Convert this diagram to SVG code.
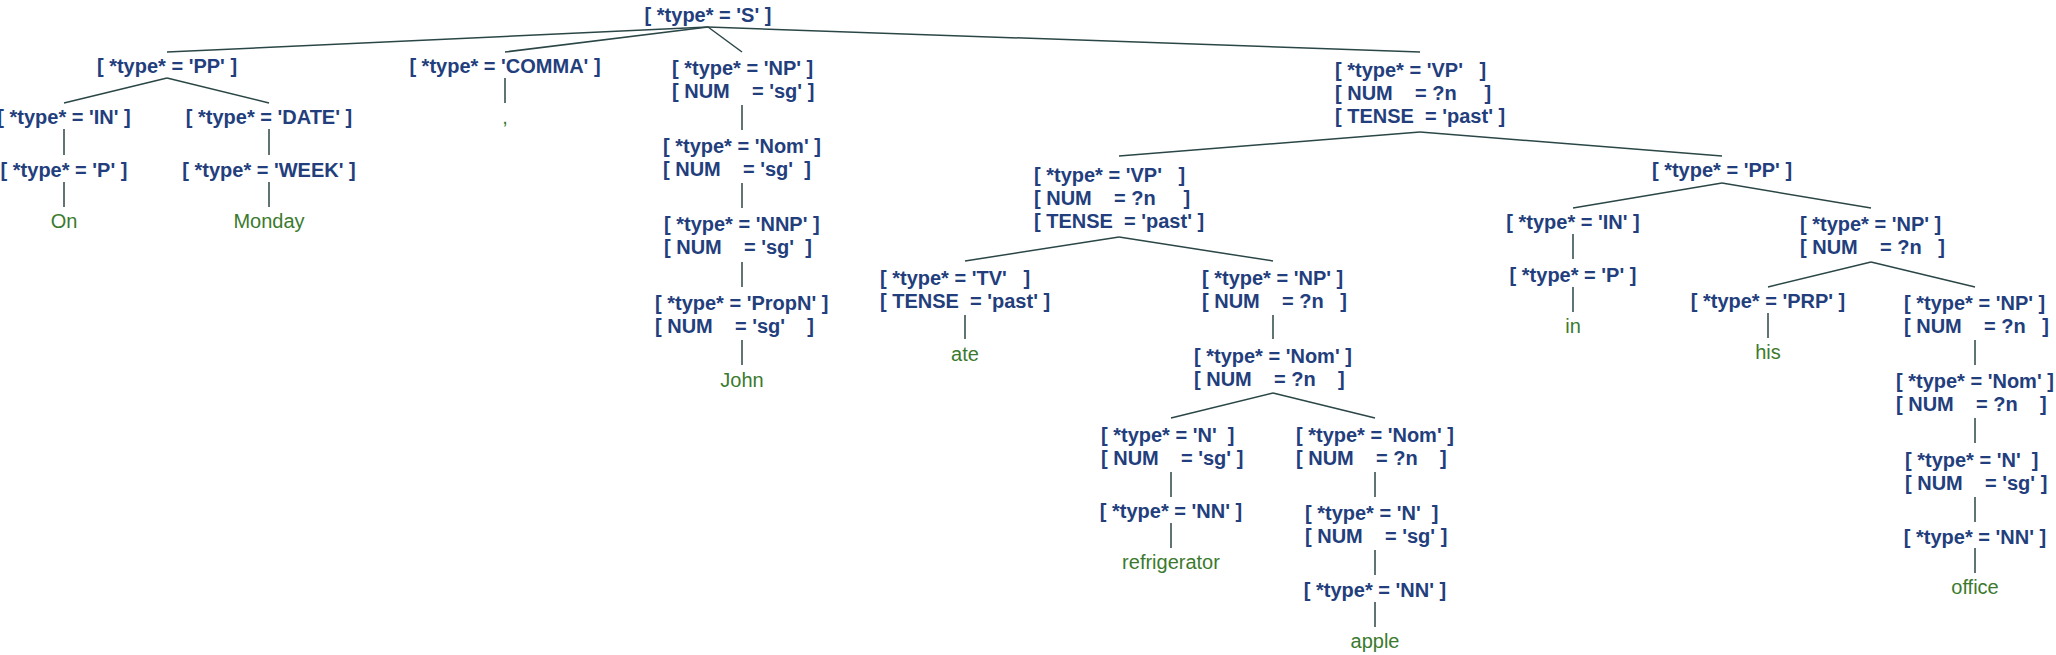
<svg xmlns="http://www.w3.org/2000/svg" width="2056" height="655" viewBox="0 0 2056 655">
<style>
.n{font-family:"Liberation Sans",Arial,sans-serif;font-weight:bold;font-size:20px;fill:#233e7c;white-space:pre}
.m{text-anchor:middle}
.lf{font-family:"Liberation Sans",Arial,sans-serif;font-size:20px;fill:#3b7a2e;text-anchor:middle}
#connectors line{stroke:#2b4646;stroke-width:1.5}
</style>
<rect width="2056" height="655" fill="#fff"/>
<g id="connectors">
<line x1="708" y1="27" x2="167" y2="52"/>
<line x1="708" y1="27" x2="505" y2="52"/>
<line x1="708" y1="27" x2="742" y2="52"/>
<line x1="708" y1="27" x2="1420" y2="52"/>
<line x1="167" y1="78" x2="64" y2="103"/>
<line x1="167" y1="78" x2="269" y2="103"/>
<line x1="64" y1="129" x2="64" y2="155"/>
<line x1="64" y1="182" x2="64" y2="207"/>
<line x1="269" y1="129" x2="269" y2="155"/>
<line x1="269" y1="182" x2="269" y2="207"/>
<line x1="505" y1="78" x2="505" y2="103"/>
<line x1="742" y1="105" x2="742" y2="130"/>
<line x1="742" y1="183" x2="742" y2="208"/>
<line x1="742" y1="262" x2="742" y2="287"/>
<line x1="742" y1="340" x2="742" y2="365"/>
<line x1="1420" y1="132" x2="1119" y2="156"/>
<line x1="1420" y1="132" x2="1722" y2="156"/>
<line x1="1119" y1="237" x2="965" y2="261"/>
<line x1="1119" y1="237" x2="1273" y2="261"/>
<line x1="965" y1="315" x2="965" y2="339"/>
<line x1="1273" y1="315" x2="1273" y2="339"/>
<line x1="1273" y1="393" x2="1171" y2="418"/>
<line x1="1273" y1="393" x2="1375" y2="418"/>
<line x1="1171" y1="472" x2="1171" y2="497"/>
<line x1="1171" y1="523" x2="1171" y2="548"/>
<line x1="1375" y1="472" x2="1375" y2="497"/>
<line x1="1375" y1="550" x2="1375" y2="575"/>
<line x1="1375" y1="602" x2="1375" y2="627"/>
<line x1="1722" y1="183" x2="1573" y2="208"/>
<line x1="1722" y1="183" x2="1871" y2="208"/>
<line x1="1573" y1="234" x2="1573" y2="259"/>
<line x1="1573" y1="287" x2="1573" y2="312"/>
<line x1="1871" y1="262" x2="1768" y2="287"/>
<line x1="1871" y1="262" x2="1975" y2="287"/>
<line x1="1768" y1="313" x2="1768" y2="338"/>
<line x1="1975" y1="340" x2="1975" y2="365"/>
<line x1="1975" y1="418" x2="1975" y2="443"/>
<line x1="1975" y1="497" x2="1975" y2="522"/>
<line x1="1975" y1="548" x2="1975" y2="573"/>
</g>
<g id="n-S"><text class="n m" x="708" y="22">[ *type* = 'S' ]</text></g>
<g id="n-PP"><text class="n m" x="167" y="73">[ *type* = 'PP' ]</text></g>
<g id="n-IN"><text class="n m" x="64" y="124">[ *type* = 'IN' ]</text></g>
<g id="n-P"><text class="n m" x="64" y="177">[ *type* = 'P' ]</text></g>
<g id="leaf-On"><text class="lf" x="64" y="228">On</text></g>
<g id="n-DATE"><text class="n m" x="269" y="124">[ *type* = 'DATE' ]</text></g>
<g id="n-WEEK"><text class="n m" x="269" y="177">[ *type* = 'WEEK' ]</text></g>
<g id="leaf-Monday"><text class="lf" x="269" y="228">Monday</text></g>
<g id="n-COMMA"><text class="n m" x="505" y="73">[ *type* = 'COMMA' ]</text></g>
<g id="leaf-comma"><text class="lf" x="505" y="124">,</text></g>
<g id="n-NP1"><text class="n" xml:space="preserve" y="75"><tspan x="672">[ *type* = 'NP' ]</tspan><tspan x="672" dy="23">[ NUM    = 'sg' ]</tspan></text></g>
<g id="n-Nom1"><text class="n" xml:space="preserve" y="153"><tspan x="663">[ *type* = 'Nom' ]</tspan><tspan x="663" dy="23">[ NUM    = 'sg'  ]</tspan></text></g>
<g id="n-NNP"><text class="n" xml:space="preserve" y="231"><tspan x="664">[ *type* = 'NNP' ]</tspan><tspan x="664" dy="23">[ NUM    = 'sg'  ]</tspan></text></g>
<g id="n-PropN"><text class="n" xml:space="preserve" y="310"><tspan x="655">[ *type* = 'PropN' ]</tspan><tspan x="655" dy="23">[ NUM    = 'sg'    ]</tspan></text></g>
<g id="leaf-John"><text class="lf" x="742" y="387">John</text></g>
<g id="n-VP1"><text class="n" xml:space="preserve" y="77"><tspan x="1335">[ *type* = 'VP'   ]</tspan><tspan x="1335" dy="23">[ NUM    = ?n     ]</tspan><tspan x="1335" dy="23">[ TENSE  = 'past' ]</tspan></text></g>
<g id="n-VP2"><text class="n" xml:space="preserve" y="182"><tspan x="1034">[ *type* = 'VP'   ]</tspan><tspan x="1034" dy="23">[ NUM    = ?n     ]</tspan><tspan x="1034" dy="23">[ TENSE  = 'past' ]</tspan></text></g>
<g id="n-TV"><text class="n" xml:space="preserve" y="285"><tspan x="880">[ *type* = 'TV'   ]</tspan><tspan x="880" dy="23">[ TENSE  = 'past' ]</tspan></text></g>
<g id="leaf-ate"><text class="lf" x="965" y="361">ate</text></g>
<g id="n-NP2"><text class="n" xml:space="preserve" y="285"><tspan x="1202">[ *type* = 'NP' ]</tspan><tspan x="1202" dy="23">[ NUM    = ?n   ]</tspan></text></g>
<g id="n-Nom2"><text class="n" xml:space="preserve" y="363"><tspan x="1194">[ *type* = 'Nom' ]</tspan><tspan x="1194" dy="23">[ NUM    = ?n    ]</tspan></text></g>
<g id="n-N1"><text class="n" xml:space="preserve" y="442"><tspan x="1101">[ *type* = 'N'  ]</tspan><tspan x="1101" dy="23">[ NUM    = 'sg' ]</tspan></text></g>
<g id="n-NN1"><text class="n m" x="1171" y="518">[ *type* = 'NN' ]</text></g>
<g id="leaf-refrigerator"><text class="lf" x="1171" y="569">refrigerator</text></g>
<g id="n-Nom3"><text class="n" xml:space="preserve" y="442"><tspan x="1296">[ *type* = 'Nom' ]</tspan><tspan x="1296" dy="23">[ NUM    = ?n    ]</tspan></text></g>
<g id="n-N2"><text class="n" xml:space="preserve" y="520"><tspan x="1305">[ *type* = 'N'  ]</tspan><tspan x="1305" dy="23">[ NUM    = 'sg' ]</tspan></text></g>
<g id="n-NN2"><text class="n m" x="1375" y="597">[ *type* = 'NN' ]</text></g>
<g id="leaf-apple"><text class="lf" x="1375" y="648">apple</text></g>
<g id="n-PP2"><text class="n m" x="1722" y="177">[ *type* = 'PP' ]</text></g>
<g id="n-IN2"><text class="n m" x="1573" y="229">[ *type* = 'IN' ]</text></g>
<g id="n-P2"><text class="n m" x="1573" y="282">[ *type* = 'P' ]</text></g>
<g id="leaf-in"><text class="lf" x="1573" y="333">in</text></g>
<g id="n-NP3"><text class="n" xml:space="preserve" y="231"><tspan x="1800">[ *type* = 'NP' ]</tspan><tspan x="1800" dy="23">[ NUM    = ?n   ]</tspan></text></g>
<g id="n-PRP"><text class="n m" x="1768" y="308">[ *type* = 'PRP' ]</text></g>
<g id="leaf-his"><text class="lf" x="1768" y="359">his</text></g>
<g id="n-NP4"><text class="n" xml:space="preserve" y="310"><tspan x="1904">[ *type* = 'NP' ]</tspan><tspan x="1904" dy="23">[ NUM    = ?n   ]</tspan></text></g>
<g id="n-Nom4"><text class="n" xml:space="preserve" y="388"><tspan x="1896">[ *type* = 'Nom' ]</tspan><tspan x="1896" dy="23">[ NUM    = ?n    ]</tspan></text></g>
<g id="n-N3"><text class="n" xml:space="preserve" y="467"><tspan x="1905">[ *type* = 'N'  ]</tspan><tspan x="1905" dy="23">[ NUM    = 'sg' ]</tspan></text></g>
<g id="n-NN3"><text class="n m" x="1975" y="544">[ *type* = 'NN' ]</text></g>
<g id="leaf-office"><text class="lf" x="1975" y="594">office</text></g>
</svg>
